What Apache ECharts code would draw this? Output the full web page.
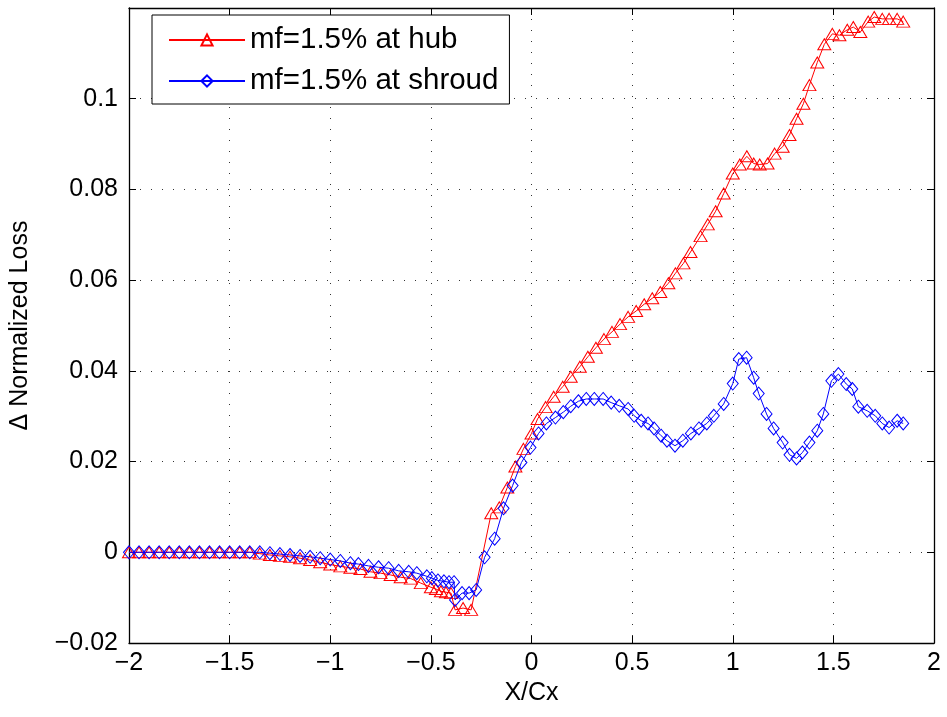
<!DOCTYPE html>
<html>
<head>
<meta charset="utf-8">
<script src="https://cdn.jsdelivr.net/npm/echarts@6/dist/echarts.min.js"></script>
<style>
  html, body { margin: 0; padding: 0; background: #fff; }
  #chart { width: 947px; height: 717px; }
</style>
</head>
<body>
<div id="chart"></div>
<script>
// hub series (red triangles)
var hubX = [
    -2, -1.95, -1.9, -1.85, -1.8, -1.75, -1.7, -1.65, -1.6, -1.55, -1.5, -1.45, -1.4,
    -1.35, -1.3, -1.25, -1.2, -1.15, -1.1, -1.05, -1, -0.95, -0.9, -0.85, -0.8,
    -0.75, -0.7, -0.65, -0.6, -0.55, -0.5, -0.475, -0.45, -0.425, -0.4,
    -0.38, -0.34, -0.3, -0.2, -0.16, -0.12, -0.08, -0.04, 0, 0.03, 0.07, 0.11,
    0.155, 0.195, 0.24, 0.28, 0.32, 0.36, 0.4, 0.44, 0.48, 0.52, 0.56, 0.6, 0.64,
    0.68, 0.715, 0.755, 0.79, 0.84, 0.876, 0.915, 0.955, 1, 1.035, 1.07, 1.104,
    1.134, 1.173, 1.208, 1.248, 1.282, 1.317, 1.351, 1.381, 1.42, 1.455, 1.495,
    1.53, 1.569, 1.599, 1.634, 1.673, 1.703, 1.743, 1.777, 1.817, 1.847
];
var hubY = [
    0, 0, 0, 0, 0, 0, 0, 0, 0, 0, 0, 0, 0,
    -0.0003, -0.0006, -0.0008, -0.001, -0.0013, -0.0017, -0.0022, -0.0027, -0.0031, -0.0034, -0.0037, -0.0043,
    -0.0046, -0.005, -0.0055, -0.0058, -0.0068, -0.0077, -0.0081, -0.0086, -0.0088, -0.009,
    -0.0127, -0.0123, -0.0127, 0.0086, 0.0099, 0.0143, 0.0189, 0.0228, 0.0262, 0.0294, 0.032, 0.0343,
    0.0365, 0.0387, 0.0409, 0.0431, 0.0451, 0.047, 0.0486, 0.0503, 0.0519, 0.0532, 0.0547, 0.056, 0.0574,
    0.0593, 0.0615, 0.0637, 0.0662, 0.0697, 0.0723, 0.0752, 0.0791, 0.0835, 0.0855, 0.0873, 0.0857,
    0.0855, 0.0857, 0.0879, 0.0894, 0.092, 0.0956, 0.0989, 0.103, 0.108, 0.112, 0.1143,
    0.114, 0.1152, 0.1158, 0.1147, 0.117, 0.118, 0.1176, 0.1176, 0.1176, 0.117
];

// shroud series (blue diamonds)
var shroudX = [
    -2, -1.95, -1.9, -1.85, -1.8, -1.75, -1.7, -1.65, -1.6, -1.55, -1.5, -1.45, -1.4, -1.35,
    -1.3, -1.25, -1.2, -1.15, -1.1, -1.05, -1, -0.95, -0.9, -0.86, -0.81, -0.76, -0.71,
    -0.66, -0.61, -0.57, -0.52, -0.495, -0.465, -0.435, -0.41, -0.385,
    -0.38, -0.345, -0.31, -0.275, -0.233, -0.183, -0.139, -0.094, -0.05, -0.005,
    0.035, 0.074, 0.119, 0.158, 0.195, 0.233, 0.272, 0.312, 0.356, 0.396, 0.436, 0.48,
    0.51, 0.545, 0.579, 0.609, 0.644, 0.673, 0.713, 0.752, 0.792, 0.832, 0.871, 0.906,
    0.955, 1, 1.03, 1.069, 1.104, 1.129, 1.168, 1.203, 1.248, 1.282, 1.317, 1.346,
    1.381, 1.42, 1.45, 1.49, 1.525, 1.564, 1.594, 1.624, 1.668, 1.708, 1.743, 1.777,
    1.817, 1.847
];
var shroudY = [
    0, 0, 0, 0, 0, 0, 0, 0, 0, 0, 0, 0, 0, 0,
    -0.0002, -0.0004, -0.0006, -0.0008, -0.001, -0.0013, -0.0016, -0.0019, -0.0024, -0.0026, -0.003, -0.0033, -0.0035,
    -0.0041, -0.0043, -0.0046, -0.0053, -0.0057, -0.0062, -0.0064, -0.0066, -0.0066,
    -0.0105, -0.009, -0.009, -0.0083, -0.0011, 0.003, 0.0097, 0.0147, 0.0198, 0.0231,
    0.0262, 0.0284, 0.0297, 0.0309, 0.0322, 0.0333, 0.0338, 0.0338, 0.0338, 0.033, 0.0323, 0.0316,
    0.0301, 0.029, 0.0284, 0.0273, 0.0257, 0.0246, 0.0235, 0.0246, 0.0262, 0.0273, 0.0284, 0.0301,
    0.0327, 0.0372, 0.0426, 0.0429, 0.0385, 0.035, 0.0305, 0.0273, 0.0242, 0.0215, 0.0207, 0.022,
    0.0242, 0.0268, 0.0305, 0.0378, 0.0393, 0.0371, 0.036, 0.0321, 0.0312, 0.0301, 0.0284, 0.0275,
    0.029, 0.0284
];

var seriesNames = ['mf=1.5% at hub', 'mf=1.5% at shroud'];

function pairs(xs, ys) {
    var out = [];
    for (var i = 0; i < xs.length; i++) out.push([xs[i], ys[i]]);
    return out;
}

function fmt(v) {
    var s = String(parseFloat(v.toFixed(2)));
    return s.replace('-', '\u2212');
}

var fontName = 'Liberation Sans';
var axisLine = { show: true, onZero: false, lineStyle: { color: '#000', width: 1.3 } };
var ticks = { show: true, inside: true, length: 7, lineStyle: { color: '#000', width: 1 } };
var grid_lines = { show: true, lineStyle: { color: '#333', width: 1, type: [1, 10] } };

var myChart = echarts.init(document.getElementById('chart'));
var option = {
    animation: false,
    backgroundColor: '#fff',
    grid: { left: 126, right: 13, top: 8, bottom: 74, containLabel: false },
    legend: {
        orient: 'vertical',
        left: 152,
        top: 15,
        padding: [10, 11, 8, 16],
        itemGap: 11,
        itemWidth: 76,
        itemHeight: 14,
        backgroundColor: '#fff',
        borderColor: '#000',
        borderWidth: 1,
        borderRadius: 0,
        textStyle: { fontSize: 29.5, color: '#000', fontFamily: fontName },
        data: seriesNames
    },
    xAxis: [
        {
            type: 'value', min: -2, max: 2, interval: 0.5,
            name: 'X/Cx', nameLocation: 'middle', nameGap: 36,
            nameTextStyle: { fontSize: 25, color: '#000', fontFamily: fontName },
            axisLine: axisLine, axisTick: ticks, splitLine: grid_lines,
            axisLabel: { fontSize: 25, color: '#000', fontFamily: fontName, margin: 8, formatter: fmt }
        },
        {
            type: 'value', position: 'top', min: -2, max: 2, interval: 0.5,
            axisLine: axisLine, axisTick: ticks, splitLine: { show: false },
            axisLabel: { show: false }
        }
    ],
    yAxis: [
        {
            type: 'value', min: -0.02, max: 0.12, interval: 0.02,
            name: '\u0394 Normalized Loss', nameLocation: 'middle', nameGap: 96,
            nameTextStyle: { fontSize: 25, color: '#000', fontFamily: fontName },
            axisLine: axisLine, axisTick: ticks, splitLine: grid_lines,
            axisLabel: {
                fontSize: 25, color: '#000', fontFamily: fontName, margin: 11,
                formatter: function (v) {
                    if (v > 0.11) return '';
                    return fmt(v);
                }
            }
        },
        {
            type: 'value', position: 'right', min: -0.02, max: 0.12, interval: 0.02,
            axisLine: axisLine, axisTick: ticks, splitLine: { show: false },
            axisLabel: { show: false }
        }
    ],
    series: [
        {
            name: seriesNames[0],
            type: 'line',
            data: pairs(hubX, hubY),
            symbol: 'triangle',
            symbolSize: [13, 11],
            showAllSymbol: true,
            lineStyle: { color: '#ff0000', width: 1 },
            itemStyle: { color: 'rgba(255,255,255,0)', borderColor: '#ff0000', borderWidth: 1 },
            z: 3
        },
        {
            name: seriesNames[1],
            type: 'line',
            data: pairs(shroudX, shroudY),
            symbol: 'diamond',
            symbolSize: [11, 13],
            showAllSymbol: true,
            lineStyle: { color: '#0000ff', width: 1 },
            itemStyle: { color: 'rgba(255,255,255,0)', borderColor: '#0000ff', borderWidth: 1 },
            z: 4
        }
    ]
};
myChart.setOption(option);
</script>
</body>
</html>
